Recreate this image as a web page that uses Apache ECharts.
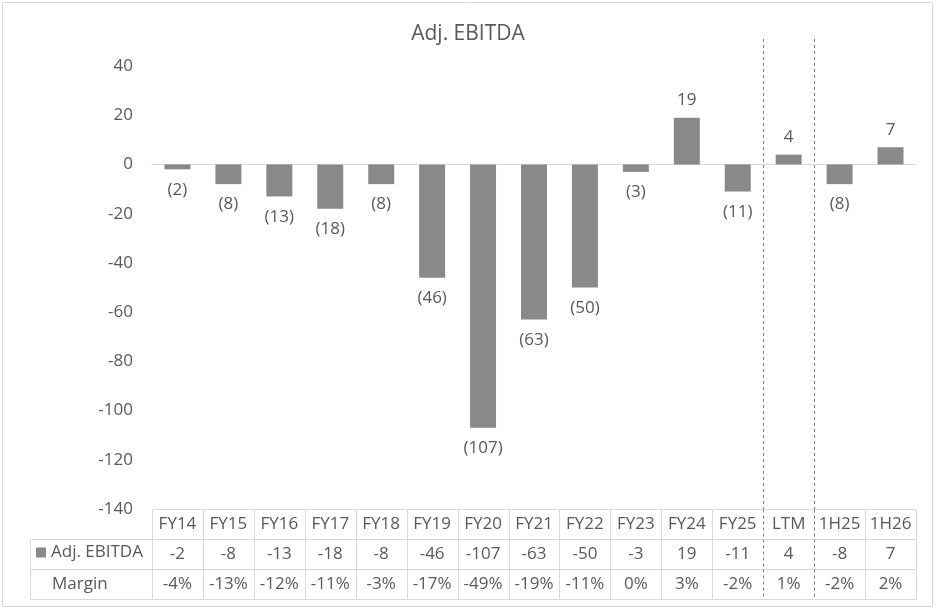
<!DOCTYPE html>
<html>
<head>
<meta charset="utf-8">
<script src="https://cdn.jsdelivr.net/npm/echarts@6/dist/echarts.min.js"></script>
<style>
html, body { margin: 0; padding: 0; background: #fff; }
#main { width: 936px; height: 610px; }
</style>
</head>
<body>
<div id="main"></div>
<script>
var categories = ['FY14', 'FY15', 'FY16', 'FY17', 'FY18', 'FY19', 'FY20', 'FY21', 'FY22', 'FY23', 'FY24', 'FY25', 'LTM', '1H25', '1H26'];
var ebitda = [-2, -8, -13, -18, -8, -46, -107, -63, -50, -3, 19, -11, 4, -8, 7];
var margins = [-4, -13, -12, -11, -3, -17, -49, -19, -11, 0, 3, -2, 1, -2, 2];
var tableRows = ['header', 'Adj. EBITDA', 'Margin'];
var dividers = ['LTM', '1H25'];
var yMin = -140, yMax = 40, yStep = 20;

var font = '"Open Sans", Lato, sans-serif';
var fontSize = 17;
var textColor = '#595959';
var lineColor = '#d9d9d9';
var dashColor = '#808080';
var barColor = '#898989';

function paren(v) {
    return v < 0 ? '(' + (-v) + ')' : String(v);
}

function hline(x1, x2, y) {
    return {type: 'line', shape: {x1: x1, y1: y, x2: x2, y2: y}, style: {stroke: lineColor, lineWidth: 1}};
}

function vline(x, y1, y2, dashed) {
    return {
        type: 'line',
        shape: {x1: x, y1: y1, x2: x, y2: y2},
        style: dashed ? {stroke: dashColor, lineWidth: 1, lineDash: [3, 3]} : {stroke: lineColor, lineWidth: 1}
    };
}

function cellText(text, x, y, align) {
    return {
        type: 'text',
        style: {
            text: text, x: x, y: y,
            align: align || 'center', verticalAlign: 'middle',
            fontSize: fontSize, fontFamily: font, fill: textColor
        }
    };
}

// one column of the data table under the chart
function renderTable(params, api) {
    var i = api.value(0);
    var cs = params.coordSys;
    var size = api.size([1, 1]);
    var w = size[0], h = size[1];
    var texts = [categories[i], String(ebitda[i]), margins[i] + '%'];
    var isDivider = dividers.indexOf(categories[i]) >= 0;
    var children = [];
    for (var r = 0; r < tableRows.length; r++) {
        var c = api.coord([i, r]);
        var x0 = Math.round(c[0] - w / 2) + 0.5, x1 = Math.round(c[0] + w / 2) + 0.5;
        var y0 = Math.round(c[1] - h / 2) + 0.5, y1 = Math.round(c[1] + h / 2) + 0.5;
        children.push(hline(x0, x1, y0));
        children.push(vline(x0, y0, y1, isDivider));
        if (r === tableRows.length - 1) children.push(hline(x0, x1, y1));
        if (i === categories.length - 1) children.push(vline(x1, y0, y1, false));
        children.push(cellText(texts[r], c[0], c[1]));
        if (i === 0 && r > 0) {
            var lx = Math.round(cs.x - 122) + 0.5;
            children.push(hline(lx, x0, y0));
            children.push(vline(lx, y0, y1, false));
            if (r === tableRows.length - 1) children.push(hline(lx, x0, y1));
            if (r === 2) children.push(cellText(tableRows[r], cs.x - 100, c[1], 'left'));
        }
    }
    return {type: 'group', children: children};
}

// dashed separators before LTM and 1H25, in the bar area
function renderDivider(params, api) {
    var c = api.coord([api.value(0), 0]);
    var w = api.size([1, 0])[0];
    var x = Math.round(c[0] - w / 2) + 0.5;
    var cs = params.coordSys;
    return vline(x, cs.y - 27, cs.y + cs.height, true);
}

var chart = echarts.init(document.getElementById('main'));

chart.setOption({
    animation: false,
    title: {
        text: 'Adj. EBITDA',
        left: 'center',
        top: 19,
        textStyle: {fontFamily: font, fontSize: 21, fontWeight: 'normal', color: textColor}
    },
    legend: {
        data: [{name: 'Adj. EBITDA', itemStyle: {color: barColor}}],
        left: 36,
        top: 544,
        padding: 0,
        icon: 'rect',
        itemWidth: 10,
        itemHeight: 10,
        itemGap: 5,
        selectedMode: false,
        textStyle: {fontFamily: font, fontSize: fontSize, color: textColor, padding: [0, 0, 0, 0]}
    },
    graphic: [{
        type: 'rect',
        shape: {x: 2.5, y: 2.5, width: 930, height: 604},
        style: {fill: 'none', stroke: lineColor, lineWidth: 1},
        silent: true
    }],
    grid: [
        {left: 152, right: 20, top: 66, height: 443},
        {left: 152, right: 20, top: 509, height: 90}
    ],
    xAxis: [{
        type: 'category',
        gridIndex: 0,
        data: categories,
        axisLine: {show: true, lineStyle: {color: lineColor}},
        axisTick: {show: false},
        axisLabel: {show: false},
        splitLine: {show: false}
    }, {
        type: 'category',
        gridIndex: 1,
        data: categories,
        show: false
    }],
    yAxis: [{
        type: 'value',
        gridIndex: 0,
        min: yMin,
        max: yMax,
        interval: yStep,
        axisLine: {show: false},
        axisTick: {show: false},
        splitLine: {show: false},
        axisLabel: {fontFamily: font, fontSize: fontSize, color: textColor, margin: 19}
    }, {
        type: 'category',
        gridIndex: 1,
        data: tableRows,
        inverse: true,
        show: false
    }],
    series: [{
        name: 'Adj. EBITDA',
        type: 'bar',
        xAxisIndex: 0,
        yAxisIndex: 0,
        barWidth: '51%',
        itemStyle: {color: barColor},
        data: ebitda.map(function (v) {
            return {
                value: v,
                label: {position: v < 0 ? 'bottom' : 'top', distance: v < 0 ? 12 : 9}
            };
        }),
        label: {
            show: true,
            fontFamily: font,
            fontSize: fontSize,
            color: textColor,
            formatter: function (p) { return paren(p.value); }
        }
    }, {
        name: 'dividers',
        type: 'custom',
        xAxisIndex: 0,
        yAxisIndex: 0,
        silent: true,
        clip: false,
        renderItem: renderDivider,
        encode: {x: 0},
        data: dividers.map(function (d) { return [categories.indexOf(d)]; })
    }, {
        name: 'table',
        type: 'custom',
        xAxisIndex: 1,
        yAxisIndex: 1,
        silent: true,
        clip: false,
        renderItem: renderTable,
        encode: {x: 0},
        data: categories.map(function (c, i) { return [i]; })
    }]
});
</script>
</body>
</html>
